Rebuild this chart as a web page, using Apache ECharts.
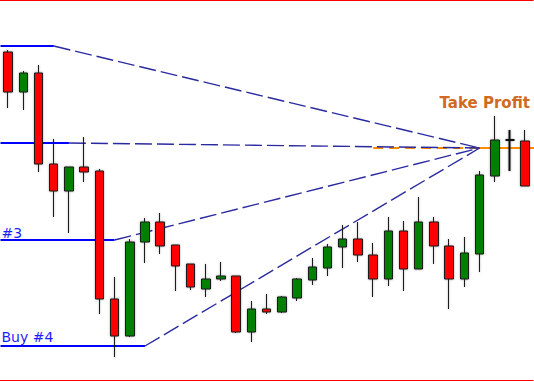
<!DOCTYPE html>
<html>
<head>
<meta charset="utf-8">
<script src="https://cdn.jsdelivr.net/npm/echarts@6/dist/echarts.min.js"></script>
<style>
html,body{margin:0;padding:0;background:#ffffff;}
#c{width:534px;height:381px;}
</style>
</head>
<body>
<div id="c"></div>
<script>
// ---- data ----
const categories = ['1','2','3','4','5','6','7','8','9','10','11','12','13','14','15','16','17','18','19','20','21','22','23','24','25','26','27','28','29','30','31','32','33','34','35'];
const opens  = [328,288,307,216,189,213,209,81,44,138,158,135,116,91,101,104,48,71,68,82,100,112,133,141,125,101,149,111,158,134,101,126,204,240,239];
const closes = [288,307,216,189,213,208,81,44,138,158,134,114,93,101,104,48,71,68,83,101,113,133,141,125,101,149,111,158,134,101,127,205,240,240,194];
const lows   = [272,270,208,163,147,198,66,23,43,117,126,89,90,83,99,47,38,66,67,79,95,104,112,118,83,94,89,111,116,71,93,108,198,209,194];
const highs  = [330,309,315,241,213,243,211,103,141,162,167,135,116,116,118,104,79,86,84,102,122,136,155,158,137,163,159,183,163,141,143,209,264,250,250];

const levelValues   = [334, 237, 140, 34];
const levelEndIndex = [3, 4, 7, 9];
const levelLabels   = ['', '', '#3', 'Buy #4'];
const targetIndex = 31;
const targetValue = 232;
const takeProfitStart = 24;
const takeProfitLabel = 'Take Profit';

// ---- chart ----
const xMin = -0.5, xMax = categories.length - 0.5;
const chart = echarts.init(document.getElementById('c'), null, {renderer: 'svg'});

const candleData = categories.map((c, i) => {
  const item = {value: [opens[i], closes[i], lows[i], highs[i]]};
  if (opens[i] === closes[i]) {
    item.itemStyle = {borderWidth: 2, borderColor: '#111', borderColor0: '#111'};
  }
  return item;
});

const series = [];
const levelSeriesIdx = [];
levelValues.forEach((v, k) => {
  levelSeriesIdx.push(series.length);
  series.push({
    type: 'line', xAxisIndex: 1, yAxisIndex: 0, symbol: 'none', silent: true, z: 2,
    data: [[xMin, v], [levelEndIndex[k], v]],
    lineStyle: {color: '#0000ff', width: 2}
  });
});
// orange take profit line
series.push({
  type: 'line', xAxisIndex: 1, yAxisIndex: 0, symbol: 'none', silent: true, z: 2,
  data: [[takeProfitStart, targetValue], [targetIndex, targetValue]],
  lineStyle: {color: '#ff8c00', width: 2, type: [10, 6]}
});
const tpSeriesIdx = series.length;
series.push({
  type: 'line', xAxisIndex: 1, yAxisIndex: 0, symbol: 'none', silent: true, z: 2,
  data: [[targetIndex, targetValue], [xMax + 1, targetValue]],
  lineStyle: {color: '#ff8c00', width: 2}
});
// dashed converging lines
levelValues.forEach((v, k) => {
  series.push({
    type: 'line', xAxisIndex: 1, yAxisIndex: 0, symbol: 'none', silent: true, z: 3,
    data: [[levelEndIndex[k], v], [targetIndex, targetValue]],
    lineStyle: {color: '#2a2aa0', width: 1.4, type: [17, 5]}
  });
});
// candles
series.push({
  type: 'candlestick', xAxisIndex: 0, yAxisIndex: 0, z: 5, barWidth: 9,
  data: candleData,
  itemStyle: {
    color: '#008000', color0: '#ff0000',
    borderColor: '#1a1a1a', borderColor0: '#1a1a1a', borderWidth: 1,
    shadowColor: 'rgba(0,0,0,0.35)', shadowBlur: 2
  }
});

chart.setOption({
  animation: false,
  backgroundColor: '#ffffff',
  grid: {left: 0.5, right: 1.2, top: 0, bottom: 0, containLabel: false},
  xAxis: [
    {type: 'category', data: categories, position: 'bottom', boundaryGap: true,
     axisLine: {show: true, onZero: false, lineStyle: {color: '#ff0000', width: 2}},
     axisTick: {show: false}, axisLabel: {show: false}, splitLine: {show: false}},
    {type: 'value', min: xMin, max: xMax, position: 'top',
     axisLine: {show: true, onZero: false, lineStyle: {color: '#ff0000', width: 2}},
     axisTick: {show: false}, axisLabel: {show: false}, splitLine: {show: false}}
  ],
  yAxis: {type: 'value', min: -1, max: 380, show: false, splitLine: {show: false}},
  series: series
});

// labels placed through the chart's own scales
const graphics = [];
const labelOffsets = [[0, 0], [0, 0], [1, -7], [1, -9]];
levelLabels.forEach((t, k) => {
  if (!t) return;
  const p = chart.convertToPixel({seriesIndex: levelSeriesIdx[k]}, [xMin, levelValues[k]]);
  graphics.push({
    type: 'text', x: p[0] + labelOffsets[k][0], y: p[1] + labelOffsets[k][1], z: 10, silent: true,
    style: {text: t, fill: '#1e1eff', fontSize: 14, fontFamily: 'DejaVu Sans', align: 'left', verticalAlign: 'middle'}
  });
});
const tp = chart.convertToPixel({seriesIndex: tpSeriesIdx}, [targetIndex, targetValue]);
graphics.push({
  type: 'text', x: tp[0] - 40, y: tp[1] - 45.5, z: 10, silent: true,
  style: {text: takeProfitLabel, fill: '#d2691e', fontSize: 15, fontWeight: 'bold', fontFamily: 'DejaVu Sans', align: 'left', verticalAlign: 'middle'}
});
chart.setOption({graphic: graphics});
</script>
</body>
</html>
